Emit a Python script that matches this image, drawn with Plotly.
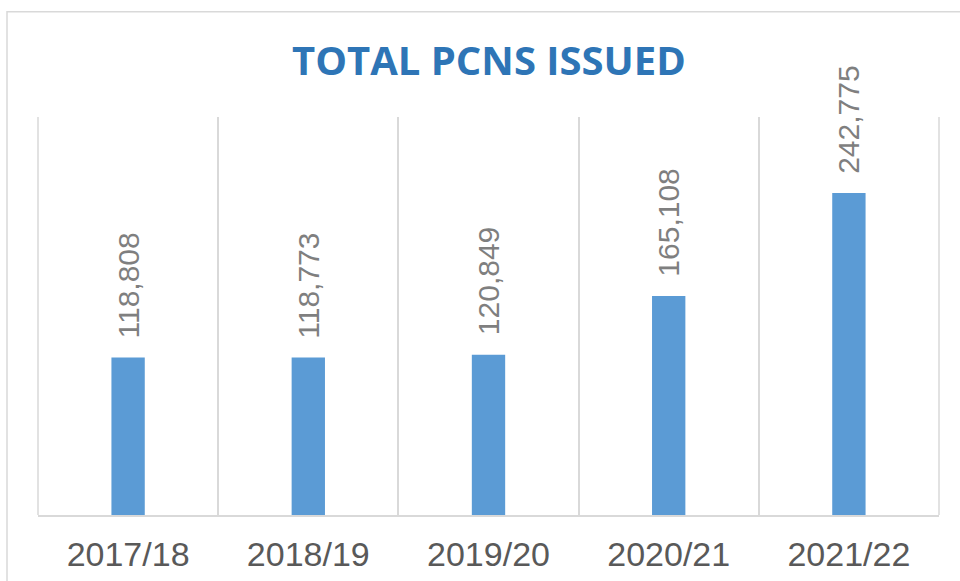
import plotly.graph_objects as go

categories = ["2017/18", "2018/19", "2019/20", "2020/21", "2021/22"]
pcns = [118808, 118773, 120849, 165108, 242775]

title_text = "TOTAL PCNS ISSUED"
bar_color = "#5B9BD5"
grid_color = "#D9D9D9"

fig = go.Figure()
fig.add_trace(go.Bar(
    x=categories, y=pcns, marker=dict(color=bar_color, line=dict(width=0)),
    width=0.185, hoverinfo="x+y",
))

for c, v in zip(categories, pcns):
    fig.add_annotation(
        x=c, y=v, xref="x", yref="y", text=f"{v:,}", textangle=-90,
        showarrow=False, yanchor="bottom", xanchor="center", yshift=17,
        font=dict(family="Liberation Sans, Arial", size=30, color="#7F7F7F"),
    )

fig.add_annotation(
    x=0.5, y=1.0 + (117 - 60) / 398, xref="paper", yref="paper", text=title_text,
    showarrow=False, yanchor="middle",
    font=dict(family="Open Sans", size=40, color="#2E75B6", weight="bold"),
)

# chart outer border
fig.add_shape(type="rect", xref="paper", yref="paper",
              x0=-0.0344, x1=1.2, y0=-0.4, y1=1.2645,
              line=dict(color=grid_color, width=1.5), layer="below")
# outer category boundary lines
for xp in (0, 1):
    fig.add_shape(type="line", xref="paper", yref="paper", x0=xp, x1=xp, y0=0, y1=1,
                  line=dict(color=grid_color, width=1.5), layer="below")

fig.update_layout(
    width=960, height=581,
    margin=dict(l=38, r=21, t=117, b=66, pad=0, autoexpand=False),
    paper_bgcolor="white", plot_bgcolor="white",
    showlegend=False,
    xaxis=dict(
        type="category", tickson="boundaries", showgrid=True, gridcolor=grid_color,
        gridwidth=1.5, showline=True, linecolor=grid_color, linewidth=1.5,
        ticks="", ticklabelstandoff=8, automargin=False,
        tickfont=dict(family="Liberation Sans, Arial", size=34, color="#595959"),
        range=[-0.5, 4.5],
    ),
    yaxis=dict(range=[0, 300000], showgrid=False, showticklabels=False,
               zeroline=False, showline=False, automargin=False),
)

fig.write_html("out.html", config={"displayModeBar": False},
               post_script="document.body.style.margin='0';document.body.style.overflow='hidden';")
